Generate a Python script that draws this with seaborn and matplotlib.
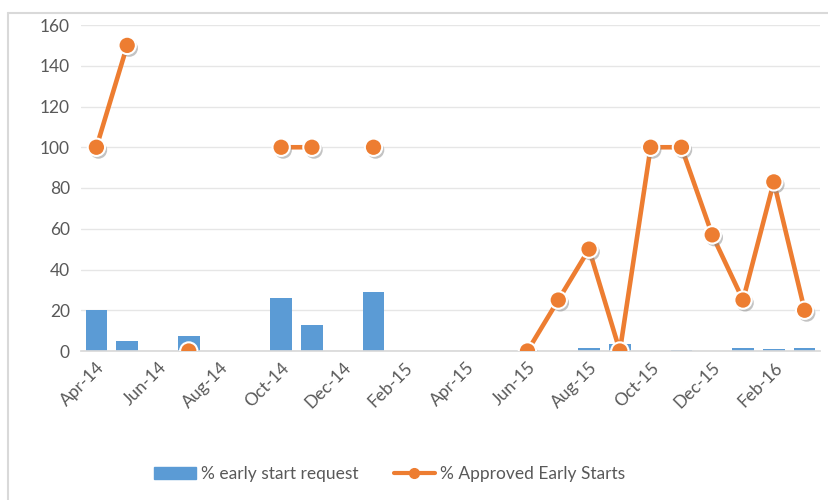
import numpy as np
import pandas as pd
import matplotlib
matplotlib.use("Agg")
import matplotlib.pyplot as plt
import matplotlib.patheffects as pe
from matplotlib.lines import Line2D
from matplotlib.patches import Patch
import seaborn as sns

# monthly data, Apr-14 .. Mar-16
months = ["Apr-14", "May-14", "Jun-14", "Jul-14", "Aug-14", "Sep-14",
          "Oct-14", "Nov-14", "Dec-14", "Jan-15", "Feb-15", "Mar-15",
          "Apr-15", "May-15", "Jun-15", "Jul-15", "Aug-15", "Sep-15",
          "Oct-15", "Nov-15", "Dec-15", "Jan-16", "Feb-16", "Mar-16"]
early_request = [20, 5, 0, 7.5, 0, 0,
                 26, 13, 0, 29, 0, 0,
                 0, 0, 0, 0, 1.5, 3.5,
                 0, 0.6, 0, 1.5, 0.8, 1.5]
approved = [100, 150, np.nan, 0, np.nan, np.nan,
            100, 100, np.nan, 100, np.nan, np.nan,
            np.nan, np.nan, 0, 25, 50, 0,
            100, 100, 57, 25, 83, 20]

BLUE = "#5B9BD5"
ORANGE = "#ED7D31"
GREY = "#595959"

sns.set_theme(style="white")
plt.rcParams["font.family"] = ["Lato", "DejaVu Sans"]

df = pd.DataFrame({"month": months, "request": early_request, "approved": approved})
df["pos"] = np.arange(len(df))

fig = plt.figure(figsize=(8.29, 5.0), dpi=100)
ax = fig.add_axes([81 / 829, 149 / 500, 739 / 829, 326 / 500])

sns.barplot(data=df, x="pos", y="request", color=BLUE, width=0.7,
            saturation=1, ax=ax, native_scale=True, linewidth=0, zorder=2)

shadow = [pe.SimplePatchShadow(offset=(1.5, -2), shadow_rgbFace="#888888", alpha=0.5), pe.Normal()]
ax.plot(df["pos"], df["approved"], color=ORANGE, lw=3.3, zorder=3, solid_capstyle="round")
ax.plot(df["pos"], df["approved"], ls="none", marker="o", markersize=12.5,
        markerfacecolor=ORANGE, markeredgecolor="white", markeredgewidth=1.5,
        zorder=4, path_effects=shadow)

ax.set_xlim(-0.5, 23.5)
ax.set_ylim(0, 160)
ax.set_yticks(range(0, 161, 20))
ax.set_xticks(df["pos"][::2])
ax.set_xticklabels(months[::2], rotation=45, ha="right", rotation_mode="anchor")
ax.set_xticks(np.arange(-0.5, 23.6, 2), minor=True)
ax.tick_params(axis="x", which="major", length=0, pad=6, labelsize=12.5, colors=GREY)
ax.tick_params(axis="x", which="minor", length=5, color="#D9D9D9", width=1)
ax.tick_params(axis="y", length=0, pad=8, labelsize=12.5, colors=GREY)
ax.set_xlabel("")
ax.set_ylabel("")
ax.grid(axis="y", color="#E6E6E6", lw=1, zorder=0)
ax.set_axisbelow(True)
for s in ["top", "right", "left"]:
    ax.spines[s].set_visible(False)
ax.spines["bottom"].set_color("#D9D9D9")

handles = [Patch(facecolor=BLUE, edgecolor=BLUE),
           Line2D([0], [0], color=ORANGE, lw=3, marker="o", markersize=7,
                  markerfacecolor=ORANGE, markeredgecolor=ORANGE)]
fig.legend(handles, ["% early start request", "% Approved Early Starts"],
           loc="center", bbox_to_anchor=(390 / 829, 1 - 474 / 500), ncol=2,
           frameon=False, fontsize=12.5, labelcolor=GREY, handlelength=2.4,
           handletextpad=0.3, columnspacing=2.0)

# chart border (top and left visible)
fig.add_artist(Line2D([8 / 829, 1], [1 - 13 / 500] * 2, color="#D9D9D9", lw=1.5, transform=fig.transFigure))
fig.add_artist(Line2D([8 / 829] * 2, [0, 1 - 13 / 500], color="#D9D9D9", lw=1.5, transform=fig.transFigure))

fig.savefig("out.png", dpi=100)
